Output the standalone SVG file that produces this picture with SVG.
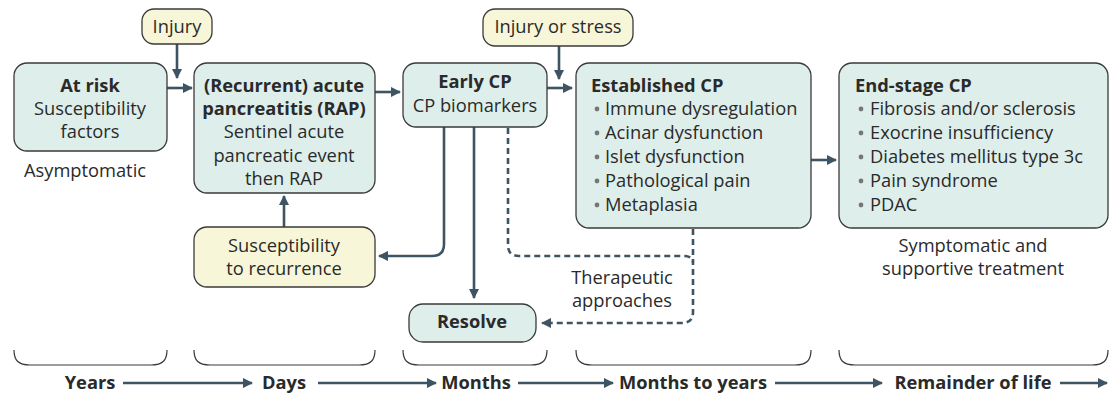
<svg xmlns="http://www.w3.org/2000/svg" width="1114" height="393" viewBox="0 0 1114 393">
<defs>
<marker id="ah" viewBox="0 0 10 10" refX="9" refY="5" markerWidth="4" markerHeight="4" orient="auto" markerUnits="strokeWidth">
<path d="M0,0 L10,5 L0,10 Z" fill="#3e5463"/>
</marker>
<style>
.box{fill:#deeeeb;stroke:#3a3a3a;stroke-width:1.3}
.ybox{fill:#f8f6d8;stroke:#3a3a3a;stroke-width:1.3}
text{font-family:"Open Sans","Noto Sans",sans-serif;font-size:18.3px;fill:#2a2a2a}
.b{font-weight:bold}
.c{text-anchor:middle}
.con{fill:none;stroke:#3e5463;stroke-width:2.6}
.dash{stroke-dasharray:6 4}
.br{fill:none;stroke:#3a3a3a;stroke-width:1.2}
.bul{fill:#777}
</style>
</defs>
<g id="connectors">
<path class="con" d="M177,44 V78" marker-end="url(#ah)"/>
<path class="con" d="M167,88 H192" marker-end="url(#ah)"/>
<path class="con" d="M375,92 H400" marker-end="url(#ah)"/>
<path class="con" d="M559,46 V79" marker-end="url(#ah)"/>
<path class="con" d="M547,88 H572" marker-end="url(#ah)"/>
<path class="con" d="M811,160 H836" marker-end="url(#ah)"/>
<path class="con" d="M284,227 V196" marker-end="url(#ah)"/>
<path class="con" d="M444,127 V244 Q444,256 432,256 H379" marker-end="url(#ah)"/>
<path class="con" d="M474,127 V298" marker-end="url(#ah)"/>
<path class="con dash" d="M508,128 V245 Q508,256 519,256 H684 Q692,256 693,262"/>
<path class="con dash" d="M693,229 V312 Q693,323 682,323 H542" marker-end="url(#ah)"/>
<path class="con" d="M123,383 H252" marker-end="url(#ah)"/>
<path class="con" d="M318,383 H436" marker-end="url(#ah)"/>
<path class="con" d="M518,383 H613" marker-end="url(#ah)"/>
<path class="con" d="M775,383 H882" marker-end="url(#ah)"/>
<path class="con" d="M1060,383 H1107" marker-end="url(#ah)"/>
</g>
<g id="injury">
<rect class="ybox" x="142" y="9" width="70" height="35" rx="12"/>
<text class="c" x="177" y="33">Injury</text>
</g>
<g id="injury-stress">
<rect class="ybox" x="483" y="9" width="150" height="37" rx="12"/>
<text class="c" x="558" y="33">Injury or stress</text>
</g>
<g id="at-risk">
<rect class="box" x="14" y="63" width="153" height="88" rx="13"/>
<text class="c b" x="90" y="92">At risk</text>
<text class="c" x="90" y="115">Susceptibility</text>
<text class="c" x="90" y="138">factors</text>
</g>
<text id="asymptomatic" class="c" x="85" y="177">Asymptomatic</text>
<g id="rap">
<rect class="box" x="194" y="63" width="181" height="130" rx="13"/>
<text class="c b" x="284" y="92">(Recurrent) acute</text>
<text class="c b" x="284" y="115">pancreatitis (RAP)</text>
<text class="c" x="284" y="138">Sentinel acute</text>
<text class="c" x="284" y="162">pancreatic event</text>
<text class="c" x="284" y="185">then RAP</text>
</g>
<g id="early-cp">
<rect class="box" x="403" y="63" width="144" height="64" rx="13"/>
<text class="c b" x="475" y="88">Early CP</text>
<text class="c" x="475" y="112">CP biomarkers</text>
</g>
<g id="established-cp">
<rect class="box" x="576" y="63" width="235" height="165" rx="13"/>
<text class="b" x="591" y="92">Established CP</text>
<circle class="bul" cx="597" cy="109" r="2.4"/><text x="605" y="115">Immune dysregulation</text>
<circle class="bul" cx="597" cy="133" r="2.4"/><text x="605" y="139">Acinar dysfunction</text>
<circle class="bul" cx="597" cy="157" r="2.4"/><text x="605" y="163">Islet dysfunction</text>
<circle class="bul" cx="597" cy="181" r="2.4"/><text x="605" y="187">Pathological pain</text>
<circle class="bul" cx="597" cy="205" r="2.4"/><text x="605" y="211">Metaplasia</text>
</g>
<g id="end-stage-cp">
<rect class="box" x="839" y="63" width="269" height="165" rx="13"/>
<text class="b" x="855" y="92">End-stage CP</text>
<circle class="bul" cx="861" cy="109" r="2.4"/><text x="870" y="115">Fibrosis and/or sclerosis</text>
<circle class="bul" cx="861" cy="133" r="2.4"/><text x="870" y="139">Exocrine insufficiency</text>
<circle class="bul" cx="861" cy="157" r="2.4"/><text x="870" y="163">Diabetes mellitus type 3c</text>
<circle class="bul" cx="861" cy="181" r="2.4"/><text x="870" y="187">Pain syndrome</text>
<circle class="bul" cx="861" cy="205" r="2.4"/><text x="870" y="211">PDAC</text>
</g>
<g id="symptomatic">
<text class="c" x="973" y="252">Symptomatic and</text>
<text class="c" x="973" y="275">supportive treatment</text>
</g>
<g id="susceptibility-recurrence">
<rect class="ybox" x="194" y="227" width="181" height="60" rx="13"/>
<text class="c" x="284" y="252">Susceptibility</text>
<text class="c" x="284" y="275">to recurrence</text>
</g>
<g id="resolve">
<rect class="box" x="409" y="304" width="127" height="38" rx="14"/>
<text class="c b" x="472" y="328">Resolve</text>
</g>
<g id="therapeutic">
<text class="c" x="622" y="284">Therapeutic</text>
<text class="c" x="622" y="307">approaches</text>
</g>
<g id="braces">
<path class="br" d="M14,350 C14,360 18,365 30,365 H151 C163,365 167,360 167,350"/>
<path class="br" d="M194,350 C194,360 198,365 210,365 H359 C371,365 375,360 375,350"/>
<path class="br" d="M403,350 C403,360 407,365 419,365 H531 C543,365 547,360 547,350"/>
<path class="br" d="M576,350 C576,360 580,365 592,365 H795 C807,365 811,360 811,350"/>
<path class="br" d="M839,350 C839,360 843,365 855,365 H1092 C1104,365 1108,360 1108,350"/>
</g>
<g id="timeline">
<text class="c b" x="90" y="389">Years</text>
<text class="c b" x="284" y="389">Days</text>
<text class="c b" x="476" y="389">Months</text>
<text class="c b" x="693" y="389">Months to years</text>
<text class="c b" x="973" y="389">Remainder of life</text>
</g>
</svg>
